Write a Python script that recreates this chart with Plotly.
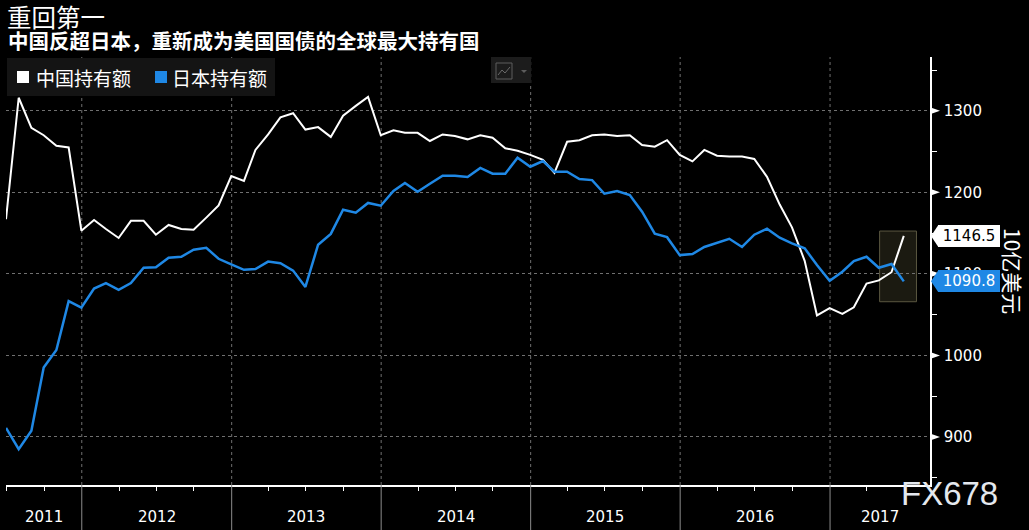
import pandas as pd
import plotly.graph_objects as go

# ---------------- data (billions USD, month-end) ----------------
START_MONTH = "2011-06-30"
china = [
    1167, 1316, 1279, 1270, 1257, 1255, 1153,
    1166, 1155, 1144, 1165, 1165, 1148, 1160, 1155, 1154, 1169, 1184, 1220,
    1214, 1252, 1271, 1292, 1297, 1277, 1280, 1268, 1294, 1306, 1317, 1270,
    1276, 1273, 1273, 1263, 1271, 1269, 1265, 1270, 1267, 1254, 1251, 1246,
    1240, 1224, 1262, 1264, 1270, 1271, 1269, 1270, 1258, 1256, 1264, 1246,
    1238, 1252, 1245, 1244, 1244, 1241, 1219, 1185, 1157, 1116, 1049, 1058,
    1051, 1059, 1088, 1092, 1102, 1146.5,
]
japan = [
    911, 885, 907.5, 985, 1006.5, 1066.6, 1058.5,
    1082, 1088.7, 1080.5, 1088.7, 1107.5, 1108, 1119.8, 1121, 1129.6, 1132, 1118.5, 1111.6,
    1105, 1106, 1115, 1113, 1104, 1084, 1135.7, 1149, 1178.7, 1175, 1187, 1183.6,
    1201.6, 1211.4, 1200.8, 1210.6, 1220.4, 1220.4, 1218.8, 1230, 1222.8, 1222.8, 1242.5, 1231.4,
    1238.4, 1225.3, 1225.3, 1216.4, 1215, 1198.3, 1201.6, 1196.7, 1176.2, 1149.2, 1145, 1123,
    1124.3, 1133, 1138, 1143, 1133, 1148, 1155.4, 1144.3, 1137.4, 1131.3, 1110.8, 1091.5,
    1102.6, 1115.7, 1121, 1107.5, 1112, 1090.8,
]
series_names = ["中国持有额", "日本持有额"]
years = [2011, 2012, 2013, 2014, 2015, 2016, 2017]
y_ticks = [900, 1000, 1100, 1200, 1300]
y_minor = [850, 950, 1050, 1150, 1250, 1350]
title = "重回第一"
subtitle = "中国反超日本，重新成为美国国债的全球最大持有国"
unit = "10亿美元"
watermark = "FX678"

# ---------------- styling ----------------
W, H = 1029, 530
ML, MR, MT, MB = 6, 99, 57, 45
PW, PH = W - ML - MR, H - MT - MB
X_RANGE = ["2011-06-30", "2017-09-02"]
Y_RANGE = [841, 1366]
WHITE = "#ffffff"
BLUE = "#1f88e5"
GRID = "#707070"
CJK = "Noto Sans CJK SC"
NUM = "DejaVu Sans"

dates = pd.date_range(START_MONTH, periods=len(china), freq=pd.offsets.MonthEnd())


def px_x(x):
    return (x - ML) / PW


def px_y(y):
    return (H - MB - y) / PH


UNITS_PER_PX = (Y_RANGE[1] - Y_RANGE[0]) / PH

fig = go.Figure()
fig.add_trace(go.Scatter(x=dates, y=china, mode="lines", name=series_names[0],
                         line=dict(color=WHITE, width=2)))
fig.add_trace(go.Scatter(x=dates, y=japan, mode="lines", name=series_names[1],
                         line=dict(color=BLUE, width=2.5)))

shapes = []
annotations = []

# year boundaries: dotted grid above axis, solid separators below axis
x0 = pd.Timestamp(X_RANGE[0])
x1 = pd.Timestamp(X_RANGE[1])
bounds = [x0] + [pd.Timestamp(f"{y}-01-01") for y in years[1:]] + [x1]
for b in bounds[1:-1]:
    shapes.append(dict(type="line", xref="x", yref="paper", x0=b, x1=b, y0=0, y1=1,
                       line=dict(color=GRID, width=1, dash="dot"), layer="below"))
    shapes.append(dict(type="line", xref="x", yref="paper", x0=b, x1=b, y0=0, y1=-MB / PH,
                       line=dict(color="#8c8c8c", width=1), layer="above"))
for i, yr in enumerate(years):
    c = bounds[i] + (bounds[i + 1] - bounds[i]) / 2
    annotations.append(dict(x=c, y=0, xref="x", yref="paper", text=str(yr), showarrow=False,
                            xanchor="center", yanchor="middle", yshift=-32,
                            font=dict(family=NUM, size=15, color=WHITE)))

# highlight box around latest values
last = dates[-1]
lo = min(china[-1], japan[-1], china[-2], japan[-2])
hi = max(china[-1], japan[-1], china[-2], japan[-2])
shapes.append(dict(type="rect", xref="x", yref="y",
                   x0=last - pd.Timedelta(days=59), x1=last + pd.Timedelta(days=31),
                   y0=lo - 25, y1=hi + 6,
                   fillcolor="#1b1a11", line=dict(color="#5a5740", width=1), layer="below"))

# right axis major tick flags
tri_w = 10 / PW
for v in y_ticks:
    h = 3.5 * UNITS_PER_PX
    shapes.append(dict(type="path", xref="paper", yref="y",
                       path=f"M 1,{v - h} L {1 + tri_w},{v} L 1,{v + h} Z",
                       fillcolor=WHITE, line=dict(width=0), layer="above"))

# last-value labels
for val, bg, fg in [(china[-1], WHITE, "#000000"), (japan[-1], BLUE, WHITE)]:
    h = 10.5 * UNITS_PER_PX
    xa = px_x(931)
    xb = px_x(938)
    shapes.append(dict(type="path", xref="paper", yref="y",
                       path=f"M {xa},{val} L {xb},{val + h} L {xb},{val - h} Z",
                       fillcolor=bg, line=dict(width=0), layer="above"))
    annotations.append(dict(x=px_x(937.5), y=val, xref="paper", yref="y", text=f"{val:.1f}",
                            showarrow=False, xanchor="left", yanchor="middle",
                            bgcolor=bg, bordercolor=bg, borderwidth=1, borderpad=1,
                            width=58, height=18, align="center",
                            font=dict(family=NUM, size=15, color=fg)))

# unit title (rotated)
annotations.append(dict(x=px_x(1013), y=px_y(271), xref="paper", yref="paper", text=unit,
                        textangle=90, showarrow=False, xanchor="center", yanchor="middle",
                        font=dict(family=CJK, size=21, color=WHITE)))

# titles
annotations.append(dict(x=px_x(5), y=px_y(16), xref="paper", yref="paper", text=title,
                        showarrow=False, xanchor="left", yanchor="middle",
                        font=dict(family=CJK, size=24.5, color=WHITE)))
annotations.append(dict(x=px_x(6), y=px_y(40), xref="paper", yref="paper",
                        text=f"<b>{subtitle}</b>",
                        showarrow=False, xanchor="left", yanchor="middle",
                        font=dict(family=CJK, size=20.5, color=WHITE)))

# custom legend
shapes.append(dict(type="rect", xref="paper", yref="paper",
                   x0=px_x(7), x1=px_x(275), y0=px_y(96), y1=px_y(58),
                   fillcolor="#141414", line=dict(width=0), layer="above"))
for (sx, tx), name, col in zip([(17, 34), (155, 170)], series_names, [WHITE, BLUE]):
    shapes.append(dict(type="rect", xref="paper", yref="paper",
                       x0=px_x(sx), x1=px_x(sx + 12), y0=px_y(83), y1=px_y(71),
                       fillcolor=col, line=dict(width=0), layer="above"))
    annotations.append(dict(x=px_x(tx), y=px_y(77), xref="paper", yref="paper", text=name,
                            showarrow=False, xanchor="left", yanchor="middle",
                            font=dict(family=CJK, size=19, color=WHITE)))

# chart-type icon
shapes.append(dict(type="rect", xref="paper", yref="paper",
                   x0=px_x(491), x1=px_x(531), y0=px_y(83), y1=px_y(57),
                   fillcolor="#1c1c1c", line=dict(width=0), layer="above"))
shapes.append(dict(type="rect", xref="paper", yref="paper",
                   x0=px_x(496), x1=px_x(512), y0=px_y(79), y1=px_y(63),
                   line=dict(color="#5c5c5c", width=1), layer="above"))
shapes.append(dict(type="path", xref="paper", yref="paper",
                   path=(f"M {px_x(498)},{px_y(75)} L {px_x(502)},{px_y(70)} "
                         f"L {px_x(505)},{px_y(73)} L {px_x(510)},{px_y(67)}"),
                   line=dict(color="#6a6a6a", width=1), layer="above"))
shapes.append(dict(type="path", xref="paper", yref="paper",
                   path=(f"M {px_x(521)},{px_y(70)} L {px_x(527)},{px_y(70)} "
                         f"L {px_x(524)},{px_y(73)} Z"),
                   fillcolor="#5c5c5c", line=dict(width=0), layer="above"))

# watermark
annotations.append(dict(x=px_x(949), y=px_y(494), xref="paper", yref="paper", text=watermark,
                        showarrow=False, xanchor="center", yanchor="middle",
                        font=dict(family="Liberation Sans", size=33, color="#e4e8ee")))

fig.update_layout(
    width=W, height=H,
    margin=dict(l=ML, r=MR, t=MT, b=MB, pad=0),
    paper_bgcolor="#000000", plot_bgcolor="#000000",
    showlegend=False,
    shapes=shapes, annotations=annotations,
    xaxis=dict(type="date", range=X_RANGE, showgrid=False, zeroline=False,
               showline=True, linecolor=WHITE, linewidth=1.5,
               showticklabels=False, ticks="",
               minor=dict(dtick="M3", tick0="2011-01-01", ticks="outside", ticklen=4,
                          tickcolor=WHITE, tickwidth=1, showgrid=False)),
    yaxis=dict(side="right", range=Y_RANGE, tickmode="array", tickvals=y_ticks,
               ticks="outside", ticklen=9, tickcolor="rgba(0,0,0,0)",
               tickfont=dict(family=NUM, size=15, color=WHITE),
               showgrid=True, gridcolor=GRID, griddash="dot", gridwidth=1,
               showline=True, linecolor=WHITE, linewidth=1.5, zeroline=False,
               minor=dict(tickmode="array", tickvals=y_minor, ticks="outside", ticklen=5,
                          tickcolor=WHITE, tickwidth=1, showgrid=False)),
)

fig.write_html("out.html", config={"displayModeBar": False},
               post_script="document.body.style.margin='0';document.body.style.overflow='hidden';")
